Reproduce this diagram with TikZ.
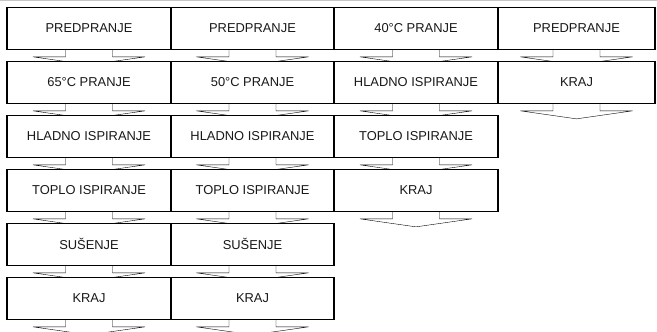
\documentclass[tikz,border=0pt]{standalone}
\usepackage{fontspec}
\setmainfont{Liberation Sans}
\usetikzlibrary{calc,backgrounds}

% block arrow hanging under a box
\newcommand{\flowarr}[1]{%
  \draw[fill=white] ($(#1.south)+(-23.5,0)$) -- ++(0,-7) -- ++(-32.5,0)
    -- ($(#1.south)+(0,-15)$) -- ($(#1.south)+(56,-7)$) -- ++(-32.5,0) -- ++(0,7);}

\begin{document}
\begin{tikzpicture}[x=1pt, y=1pt, line width=1.1pt]
   \clip (0,0) rectangle (657,-332);
   \draw[gray!45, line width=0.8pt] (0,-0.5) -- (657,-0.5);
   \begin{scope}[every node/.style={rectangle, draw, fill=white, minimum height=42pt,
       inner sep=0pt, text=black!90, font=\fontsize{12.9}{15}\selectfont}]
    % first program
    \node (a1) [minimum width=164pt] at (89,-28.3) {PREDPRANJE};
    \node (a2) [minimum width=164pt] at (89,-82.3) {65°C PRANJE};
    \node (a3) [minimum width=164pt] at (89,-136.3) {HLADNO ISPIRANJE};
    \node (a4) [minimum width=164pt] at (89,-190.3) {TOPLO ISPIRANJE};
    \node (a5) [minimum width=164pt] at (89,-244.3) {SUŠENJE};
    \node (a6) [minimum width=164pt] at (89,-298.3) {KRAJ};
    % second program
    \node (b1) [minimum width=163pt] at (252.5,-28.3) {PREDPRANJE};
    \node (b2) [minimum width=163pt] at (252.5,-82.3) {50°C PRANJE};
    \node (b3) [minimum width=163pt] at (252.5,-136.3) {HLADNO ISPIRANJE};
    \node (b4) [minimum width=163pt] at (252.5,-190.3) {TOPLO ISPIRANJE};
    \node (b5) [minimum width=163pt] at (252.5,-244.3) {SUŠENJE};
    \node (b6) [minimum width=163pt] at (252.5,-298.3) {KRAJ};
    % third program
    \node (c1) [minimum width=164pt] at (416,-28.3) {40°C PRANJE};
    \node (c2) [minimum width=164pt] at (416,-82.3) {HLADNO ISPIRANJE};
    \node (c3) [minimum width=164pt] at (416,-136.3) {TOPLO ISPIRANJE};
    \node (c4) [minimum width=164pt] at (416,-190.3) {KRAJ};
    % fourth program
    \node (d1) [minimum width=157pt] at (576.5,-28.3) {PREDPRANJE};
    \node (d2) [minimum width=157pt] at (576.5,-82.3) {KRAJ};
   \end{scope}
   \begin{pgfonlayer}{background}
    \foreach \n in {a1,a2,a3,a4,a5,a6,b1,b2,b3,b4,b5,b6,c1,c2,c3,c4,d1,d2}
      {\flowarr{\n}}
   \end{pgfonlayer}
\end{tikzpicture}
\end{document}
